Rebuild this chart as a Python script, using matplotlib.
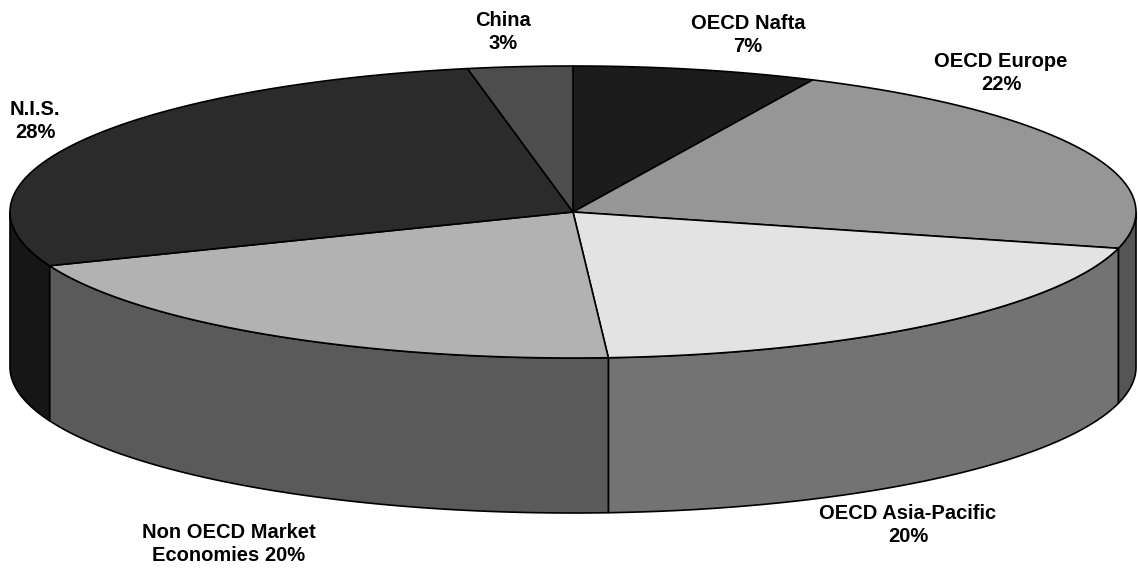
import numpy as np
import matplotlib
matplotlib.use("Agg")
import matplotlib.pyplot as plt
from matplotlib.patches import Polygon

# Regional shares, clockwise from 12 o'clock
regions = ["OECD Nafta", "OECD Europe", "OECD Asia-Pacific",
           "Non OECD Market\nEconomies", "N.I.S.", "China"]
shares = [7, 22, 20, 20, 28, 3]
top_colors = ["#1c1c1c", "#969696", "#e3e3e3", "#b2b2b2", "#2b2b2b", "#4d4d4d"]
side_colors = ["#111111", "#555555", "#737373", "#5a5a5a", "#161616", "#333333"]
label_text = ["OECD Nafta\n7%", "OECD Europe\n22%", "OECD Asia-Pacific\n20%",
              "Non OECD Market\nEconomies 20%", "N.I.S.\n28%", "China\n3%"]
label_pos = [(748, 35), (1001, 73), (908, 525), (229, 544), (35, 121), (503, 32)]

W, H = 1138, 568
fig = plt.figure(figsize=(W / 100, H / 100), dpi=100)
ax = fig.add_axes([0, 0, 1, 1])
ax.set_xlim(0, W)
ax.set_ylim(H, 0)
ax.axis("off")

cx, cy = 573, 212      # centre of the top face
ra, rb = 563, 146      # ellipse semi-axes
depth = 155            # thickness of the pie


def rim(t0, t1, dy=0.0, n=200):
    t = np.linspace(t0, t1, n)
    phi = 2 * np.pi * t
    return np.column_stack([cx + ra * np.sin(phi), cy - rb * np.cos(phi) + dy])


fr = np.array(shares, dtype=float) / sum(shares)
bounds = np.concatenate([[0], np.cumsum(fr)])

# side walls: only the front half (0.25..0.75 of a turn) faces the viewer
for i in range(len(shares)):
    t0, t1 = max(bounds[i], 0.25), min(bounds[i + 1], 0.75)
    if t1 <= t0:
        continue
    top = rim(t0, t1)
    bot = rim(t0, t1, depth)[::-1]
    ax.add_patch(Polygon(np.vstack([top, bot]), closed=True,
                         facecolor=side_colors[i], edgecolor="black", lw=1.2,
                         joinstyle="round"))

# top faces
for i in range(len(shares)):
    arc = rim(bounds[i], bounds[i + 1])
    pts = np.vstack([[cx, cy], arc])
    ax.add_patch(Polygon(pts, closed=True, facecolor=top_colors[i],
                         edgecolor="black", lw=1.2, joinstyle="round"))

for txt, (x, y) in zip(label_text, label_pos):
    ax.text(x, y, txt, ha="center", va="center", fontsize=14.5,
            fontweight="bold", family=["Liberation Sans", "DejaVu Sans"],
            linespacing=1.25, color="black")

fig.savefig("out.png", dpi=100, facecolor="white")
